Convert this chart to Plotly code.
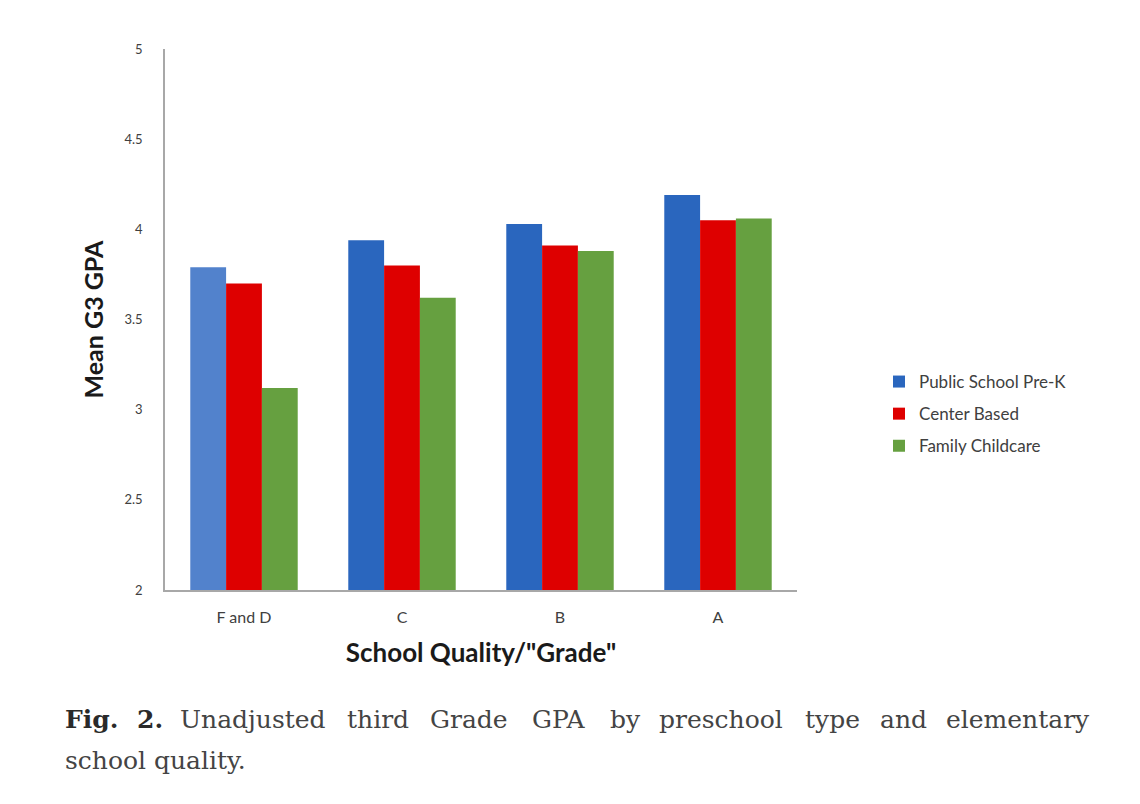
import plotly.graph_objects as go

# school quality grades on the x axis
grades = ["F and D", "C", "B", "A"]

# mean third grade GPA per preschool type
public_prek = [3.79, 3.94, 4.03, 4.19]
center_based = [3.70, 3.80, 3.91, 4.05]
family_care = [3.12, 3.62, 3.88, 4.06]

series_names = ["Public School Pre-K", "Center Based", "Family Childcare"]

caption_line1 = ["Fig.", "2.", "Unadjusted", "third", "Grade", "GPA", "by",
                 "preschool", "type", "and", "elementary"]
caption_line2 = "school quality."

# the page puts the figure 8px in from the window corner
OFF = 8
W, H = 1140 - OFF, 804 - OFF
L, R, T, B = 165 - OFF, 797 - OFF, 49 - OFF, 590 - OFF

blue = "#2A66BE"
blue_light = "#5282CC"
red = "#DE0000"
green = "#66A040"

fig = go.Figure()

# the first public bar is drawn in a lighter blue in the original
fig.add_trace(go.Bar(x=grades[:1], y=public_prek[:1], name=series_names[0],
                     marker_color=blue_light, offsetgroup="pub",
                     showlegend=False, legendgroup="g1"))
fig.add_trace(go.Bar(x=grades[1:], y=public_prek[1:], name=series_names[0],
                     marker_color=blue, offsetgroup="pub", legendgroup="g1"))
fig.add_trace(go.Bar(x=grades, y=center_based, name=series_names[1],
                     marker_color=red, offsetgroup="cb", legendgroup="g2"))
fig.add_trace(go.Bar(x=grades, y=family_care, name=series_names[2],
                     marker_color=green, offsetgroup="fc", legendgroup="g3"))

fig.update_traces(marker_line_width=0)


# window pixel -> paper coordinate
def px_x(p):
    return (p - OFF - L) / (R - L)


def px_y(p):
    return (B - (p - OFF)) / (B - T)


# justified caption, one word per annotation
word_x = [63, 135, 178, 345, 428, 530, 608, 657, 803, 878, 944]
annotations = []
for i, (w, x0) in enumerate(zip(caption_line1, word_x)):
    annotations.append(dict(
        text="<b>%s</b>" % w if i < 2 else w,
        x=px_x(x0), y=px_y(719), xref="paper", yref="paper",
        xanchor="left", yanchor="middle", showarrow=False,
        font=dict(family="DejaVu Serif", size=25, color="#2a2a2a" if i < 2 else "#444444")))
annotations.append(dict(
    text=caption_line2, x=px_x(63), y=px_y(760), xref="paper", yref="paper",
    xanchor="left", yanchor="middle", showarrow=False,
    font=dict(family="DejaVu Serif", size=25, color="#444444")))

fig.update_layout(
    width=W, height=H,
    margin=dict(l=L, r=W - R, t=T, b=H - B, autoexpand=False),
    paper_bgcolor="white", plot_bgcolor="white",
    barmode="group", bargap=0.32, bargroupgap=0,
    font=dict(family="Lato", color="#404040"),
    showlegend=True,
    legend=dict(x=px_x(879), y=px_y(414), xanchor="left", yanchor="middle",
                font=dict(family="Lato", size=17, color="#404040"),
                tracegroupgap=7, bgcolor="rgba(0,0,0,0)"),
    xaxis=dict(showline=True, linecolor="#A8A8A8", linewidth=1.5,
               showgrid=False, ticks="", ticklabelstandoff=12,
               tickfont=dict(size=16, color="#404040"),
               title=dict(text="<b>School Quality/\"Grade\"</b>", standoff=19,
                          font=dict(family="Lato", size=26, color="#1a1a1a"))),
    yaxis=dict(range=[2, 5], dtick=0.5, showline=True, linecolor="#A8A8A8",
               linewidth=1.5, showgrid=False, zeroline=False, ticks="",
               ticklabelstandoff=18, tickfont=dict(size=13, color="#404040"),
               title=dict(text="<b>Mean G3 GPA</b>", standoff=14,
                          font=dict(family="Lato", size=25, color="#1a1a1a"))),
    annotations=annotations,
)

fig.write_html("out.html")
